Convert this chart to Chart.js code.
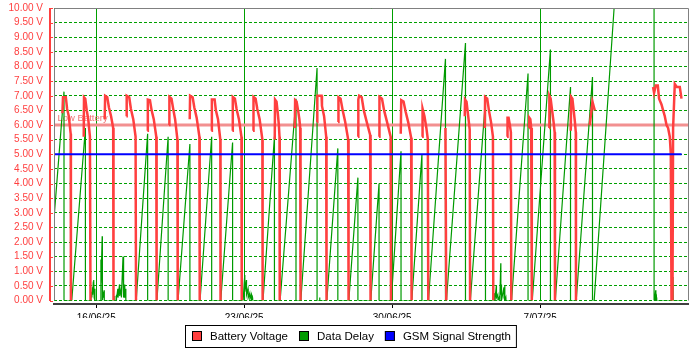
<!DOCTYPE html>
<html>
<head>
<meta charset="utf-8">
<style>
  html, body { margin: 0; padding: 0; background: #fff; }
</style>
</head>
<body>
<canvas id="chart" width="700" height="350"></canvas>
<script src="https://cdn.jsdelivr.net/npm/chart.js@4.4.1/dist/chart.umd.min.js"></script>
<script>
// x values are days counted from 14/06/25 00:00

// axis ticks
var tickDays = [2, 9, 16, 23];
var tickLabels = ["16/06/25", "23/06/25", "30/06/25", "7/07/25"];
var lowBattery = 6;
var lowBatteryText = "Low Battery";

// battery voltage, one run per charge cycle (gaps between runs)
var batteryRuns = [
  [[0.398, 6.4], [0.426, 6.95], [0.56, 6.95], [0.62, 6.55], [0.70, 6.3], [0.79, 5.7], [0.80, 0]],
  [[1.406, 5.6], [1.42, 6.95], [1.48, 6.9], [1.55, 6.5], [1.62, 6.2], [1.70, 5.6], [1.727, 0]],
  [[2.399, 6.2], [2.42, 7.0], [2.52, 6.95], [2.60, 6.6], [2.70, 6.3], [2.80, 5.9], [2.816, 0]],
  [[3.426, 6.3], [3.44, 7.0], [3.56, 6.95], [3.64, 6.55], [3.75, 6.2], [3.86, 5.6], [3.881, 0]],
  [[4.420, 5.8], [4.44, 6.87], [4.54, 6.85], [4.62, 6.5], [4.72, 6.2], [4.84, 5.6], [4.856, 0]],
  [[5.442, 6.0], [5.46, 6.96], [5.56, 6.9], [5.64, 6.55], [5.73, 6.2], [5.84, 5.5], [5.854, 0]],
  [[6.422, 6.2], [6.44, 7.0], [6.56, 6.95], [6.64, 6.6], [6.75, 6.25], [6.88, 5.6], [6.895, 0]],
  [[7.449, 5.8], [7.47, 6.87], [7.60, 6.87], [7.66, 6.5], [7.76, 6.2], [7.87, 5.5], [7.880, 0]],
  [[8.443, 5.8], [8.46, 6.96], [8.56, 6.9], [8.64, 6.55], [8.75, 6.2], [8.87, 5.6], [8.883, 0]],
  [[9.418, 5.8], [9.44, 6.96], [9.54, 6.9], [9.62, 6.55], [9.73, 6.2], [9.86, 5.5], [9.872, 0]],
  [[10.445, 5.5], [10.46, 6.87], [10.53, 6.8], [10.59, 6.4], [10.64, 6.0], [10.67, 5.6], [10.681, 0]],
  [[11.392, 5.9], [11.41, 6.85], [11.48, 6.8], [11.55, 6.5], [11.61, 6.2], [11.65, 5.9], [11.666, 0]],
  [[12.447, 6.1], [12.46, 7.0], [12.66, 7.0], [12.68, 6.65], [12.78, 6.3], [12.88, 5.6], [12.896, 0]],
  [[13.441, 6.1], [13.46, 6.95], [13.56, 6.9], [13.66, 6.5], [13.78, 6.1], [13.92, 5.5], [13.938, 0]],
  [[14.387, 5.6], [14.40, 6.87], [14.44, 7.0], [14.56, 6.95], [14.66, 6.5], [14.80, 6.1], [14.96, 5.66], [14.979, 0]],
  [[15.381, 5.6], [15.40, 6.96], [15.52, 6.9], [15.62, 6.5], [15.76, 6.1], [15.93, 5.6], [15.944, 0]],
  [[16.408, 5.7], [16.43, 6.85], [16.54, 6.8], [16.64, 6.45], [16.76, 6.1], [16.90, 5.56], [16.919, 0]],
  [[17.416, 5.6], [17.44, 6.56], [17.53, 6.3], [17.62, 5.9], [17.69, 5.5], [17.709, 0]],
  [[18.523, 5.9], [18.561, 0]],
  [[19.437, 6.3], [19.45, 6.87], [19.52, 6.8], [19.60, 6.3], [19.67, 5.84], [19.688, 0]],
  [[20.383, 5.9], [20.40, 6.96], [20.50, 6.9], [20.58, 6.5], [20.68, 6.1], [20.77, 5.6], [20.786, 0]],
  [[21.439, 5.6], [21.46, 6.25], [21.51, 6.25], [21.57, 6.0], [21.62, 5.75], [21.637, 0]],
  [[22.480, 5.9], [22.49, 6.25], [22.54, 6.2], [22.58, 5.9], [22.60, 5.6], [22.617, 0]],
  [[23.426, 5.9], [23.44, 7.0], [23.50, 6.9], [23.57, 6.5], [23.64, 6.1], [23.69, 5.75], [23.706, 0]],
  [[24.453, 5.8], [24.47, 6.96], [24.53, 6.9], [24.59, 6.5], [24.65, 6.1], [24.69, 5.75], [24.699, 0]],
  [[25.352, 6.0], [25.479, 6.8], [25.589, 6.5]],
  [[28.348, 7.3], [28.396, 7.1], [28.476, 7.35], [28.571, 7.35], [28.632, 6.9], [28.746, 6.7],
   [28.822, 6.5], [28.902, 6.3], [28.983, 6.0], [29.058, 5.9], [29.139, 5.6], [29.186, 5.0],
   [29.219, 0], [29.266, 0], [29.295, 5.9], [29.375, 7.4], [29.470, 7.3], [29.612, 7.3], [29.692, 6.9]]
];

// data delay, one continuous line
var delayPoints = [
  [0, 2.8], [0.473, 7.14], [0.474, 0],
  [0.84, 0], [1.486, 5.9], [1.487, 0],
  [1.727, 0], [1.74, 0.2], [1.75, 0.05], [1.78, 0.3], [1.79, 0.1], [1.82, 0.45], [1.83, 0.2],
  [1.86, 0.65], [1.87, 0.3], [1.89, 0.7], [1.90, 0.1], [1.93, 0.4], [1.94, 0],
  [2.18, 0], [2.22, 1.4], [2.225, 0.6], [2.28, 2.2], [2.29, 0], [2.32, 0.3], [2.33, 0.1], [2.37, 0.35], [2.38, 0],
  [2.85, 0], [2.873, 0.15], [2.88, 0], [2.94, 0], [2.953, 0.2], [2.96, 0.05], [3.02, 0.4], [3.03, 0.1],
  [3.10, 0.55], [3.11, 0.15], [3.18, 0.4], [3.19, 0.1], [3.265, 1.5], [3.27, 0.2], [3.30, 1.5], [3.31, 0.1],
  [3.346, 0.55], [3.35, 0.1], [3.39, 0.4], [3.40, 0],
  [3.89, 0], [4.43, 5.7], [4.431, 0],
  [4.87, 0], [5.40, 5.6], [5.401, 0],
  [5.87, 0], [6.43, 5.35], [6.431, 0],
  [6.91, 0], [7.46, 5.6], [7.461, 0],
  [7.89, 0], [8.45, 5.4], [8.451, 0],
  [8.95, 0], [9.025, 0.87], [9.03, 0.3], [9.105, 0.7], [9.11, 0.2], [9.18, 0.4], [9.19, 0.1],
  [9.26, 0.25], [9.27, 0.05], [9.34, 0.2], [9.35, 0], [9.39, 0.1], [9.40, 0],
  [9.89, 0], [10.43, 5.6], [10.431, 0],
  [10.70, 0], [11.45, 6.9], [11.451, 0],
  [11.68, 0], [12.447, 7.95], [12.448, 0],
  [12.56, 0], [12.57, 0.1], [12.58, 0],
  [12.91, 0], [13.43, 5.2], [13.431, 0],
  [13.95, 0], [14.38, 4.2], [14.381, 0],
  [14.99, 0], [15.38, 4.0], [15.381, 0],
  [15.96, 0], [16.42, 5.1], [16.421, 0],
  [16.93, 0], [17.41, 5.0], [17.411, 0],
  [17.72, 0], [18.523, 8.26], [18.524, 0],
  [18.57, 0], [19.47, 8.8], [19.471, 0],
  [19.70, 0], [20.416, 6.85], [20.417, 0],
  [20.80, 0], [20.857, 0.25], [20.86, 0], [20.93, 0.5], [20.937, 0.1], [21.0, 0.2], [21.01, 0],
  [21.09, 0.15], [21.095, 0], [21.14, 1.27], [21.145, 0.2], [21.17, 0.55], [21.175, 0],
  [21.29, 0.45], [21.295, 0.1], [21.33, 0.5], [21.335, 0], [21.38, 0.1], [21.385, 0],
  [21.65, 0], [22.43, 7.76], [22.431, 0],
  [22.63, 0], [23.49, 8.58], [23.491, 0],
  [23.72, 0], [24.44, 7.3], [24.441, 0],
  [24.71, 0], [25.48, 7.64], [25.481, 0],
  [25.56, 0], [28.39, 30], [28.396, 0],
  [28.42, 0.15], [28.43, 0], [28.47, 0.35], [28.48, 0], [28.51, 0.1], [28.52, 0],
  [29.20, 0], [29.24, 0.93], [29.25, 0.2], [29.29, 0.8], [29.30, 0],
  [29.75, 0]
];

// gsm signal strength
var gsmPoints = [[0, 5], [29.7, 5]];

var red = "#ff3f3f";
var green = "#009a00";
var blue = "#0000ff";
var gridGreen = "#00a000";
var fontFamily = '"Liberation Sans", Arial, sans-serif';

Chart.defaults.font.family = fontFamily;

function toXY(list) {
  return list.map(function (p) {
    return { x: p[0], y: p[1] };
  });
}

// join runs, a null point between them breaks the line
function joinRuns(runs) {
  var out = [];
  for (var i = 0; i < runs.length; i++) {
    if (i > 0) {
      var prev = runs[i - 1][runs[i - 1].length - 1];
      out.push({ x: (prev[0] + runs[i][0][0]) / 2, y: null });
    }
    out = out.concat(toXY(runs[i]));
  }
  return out;
}

var framePlugin = {
  id: "frame",
  beforeDatasetsDraw: function (chart) {
    var ctx = chart.ctx;
    var a = chart.chartArea;
    var py = chart.scales.y.getPixelForValue(lowBattery);
    ctx.save();
    ctx.strokeStyle = "#f29090";
    ctx.lineWidth = 3;
    ctx.beginPath();
    ctx.moveTo(a.left, py);
    ctx.lineTo(a.right, py);
    ctx.stroke();
    ctx.fillStyle = "#f07474";
    ctx.font = "9.5px " + fontFamily;
    ctx.textBaseline = "alphabetic";
    ctx.fillText(lowBatteryText, a.left + 3.5, py - 4);
    ctx.restore();
  },
  afterDraw: function (chart) {
    var ctx = chart.ctx;
    var a = chart.chartArea;
    var y = chart.scales.y;
    var x = chart.scales.x;
    ctx.save();

    // grey frame
    ctx.strokeStyle = "#808080";
    ctx.lineWidth = 1;
    ctx.beginPath();
    ctx.moveTo(a.left + 0.5, a.bottom);
    ctx.lineTo(a.left + 0.5, a.top + 0.5);
    ctx.lineTo(a.right + 0.5, a.top + 0.5);
    ctx.lineTo(a.right + 0.5, a.bottom);
    ctx.stroke();

    // red y axis
    ctx.strokeStyle = red;
    ctx.lineWidth = 2;
    ctx.beginPath();
    ctx.moveTo(50, a.top);
    ctx.lineTo(50, a.bottom + 0.5);
    ctx.stroke();
    ctx.lineWidth = 1;
    y.ticks.forEach(function (t) {
      var py = Math.round(y.getPixelForValue(t.value)) + 0.5;
      ctx.beginPath();
      ctx.moveTo(50, py);
      ctx.lineTo(53, py);
      ctx.stroke();
    });

    // black x axis
    ctx.strokeStyle = "#000";
    ctx.lineWidth = 1.5;
    ctx.beginPath();
    ctx.moveTo(53, 304);
    ctx.lineTo(a.right + 1, 304);
    ctx.stroke();
    ctx.lineWidth = 1;
    x.ticks.forEach(function (t) {
      var px = Math.round(x.getPixelForValue(t.value)) + 0.5;
      ctx.beginPath();
      ctx.moveTo(px, 305);
      ctx.lineTo(px, 308);
      ctx.stroke();
    });

    // boxed legend
    ctx.font = "11.5px " + fontFamily;
    ctx.textBaseline = "middle";
    var items = chart.data.datasets;
    var widths = items.map(function (d) {
      return ctx.measureText(d.label).width;
    });
    var total = 0;
    for (var i = 0; i < widths.length; i++) total += 18 + widths[i];
    total += 11 * (widths.length - 1);
    var lx = Math.round(351 - total / 2);
    ctx.strokeStyle = "#000";
    ctx.strokeRect(lx - 7 + 0.5, 325.5, total + 12, 22);
    for (var j = 0; j < items.length; j++) {
      ctx.fillStyle = items[j].borderColor;
      ctx.fillRect(lx, 331, 10, 10);
      ctx.strokeRect(lx + 0.5, 331.5, 9, 9);
      ctx.fillStyle = "#000";
      ctx.fillText(items[j].label, lx + 18, 336.5);
      lx += 18 + widths[j] + 11;
    }
    ctx.restore();
  }
};

new Chart(document.getElementById("chart"), {
  type: "line",
  data: {
    datasets: [
      {
        label: "Battery Voltage",
        data: joinRuns(batteryRuns),
        borderColor: red,
        backgroundColor: red,
        borderWidth: 2.5,
        order: 1
      },
      {
        label: "Data Delay",
        data: toXY(delayPoints),
        borderColor: green,
        backgroundColor: green,
        borderWidth: 1.2,
        order: 2
      },
      {
        label: "GSM Signal Strength",
        data: toXY(gsmPoints),
        borderColor: blue,
        backgroundColor: blue,
        borderWidth: 2,
        order: 0
      }
    ]
  },
  options: {
    responsive: false,
    animation: false,
    devicePixelRatio: 1,
    spanGaps: false,
    layout: { padding: { left: 0, right: 12, top: 8, bottom: 32 } },
    elements: {
      line: { tension: 0 },
      point: { radius: 0, hoverRadius: 0 }
    },
    plugins: {
      legend: { display: false },
      tooltip: { enabled: false }
    },
    scales: {
      x: {
        type: "linear",
        min: 0,
        max: 30,
        afterBuildTicks: function (scale) {
          scale.ticks = tickDays.map(function (v) {
            return { value: v };
          });
        },
        afterFit: function (scale) {
          scale.height = 17.5;
        },
        grid: { color: gridGreen, lineWidth: 1, drawTicks: false },
        border: { display: false },
        ticks: {
          color: "#000",
          font: { size: 10 },
          padding: 11.5,
          maxRotation: 0,
          autoSkip: false,
          callback: function (v) {
            var i = tickDays.indexOf(v);
            return i > -1 ? tickLabels[i] : "";
          }
        }
      },
      y: {
        min: 0,
        max: 10,
        afterFit: function (scale) {
          scale.width = 54;
        },
        // invisible tick marks push the labels away from the plot
        grid: { color: gridGreen, lineWidth: 1, drawTicks: true, tickLength: 11, tickColor: "rgba(0,0,0,0)" },
        border: { display: false, dash: [3, 2] },
        ticks: {
          stepSize: 0.5,
          autoSkip: false,
          color: red,
          font: { size: 10 },
          padding: 0,
          callback: function (v) {
            return v.toFixed(2) + " V";
          }
        }
      }
    }
  },
  plugins: [framePlugin]
});
</script>
</body>
</html>
